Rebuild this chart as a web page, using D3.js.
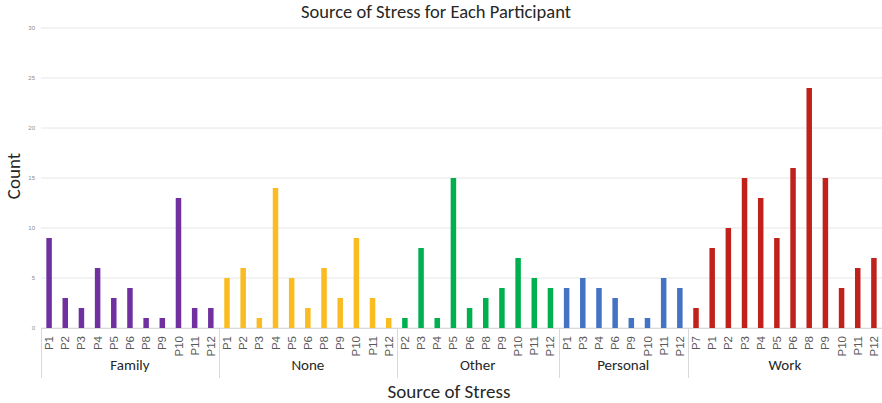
<!DOCTYPE html>
<html><head><meta charset="utf-8">
<script src="https://cdn.jsdelivr.net/npm/d3@7"></script>
<style>body{margin:0;background:#fff;} svg{display:block;font-family:Calibri,"Liberation Sans","Open Sans",sans-serif;}</style>
</head><body>
<svg id="c" width="882" height="403"></svg>
<script>
const groups = ["Family","None","Other","Personal","Work"];
const participants = [
  ["P1","P2","P3","P4","P5","P6","P8","P9","P10","P11","P12"],
  ["P1","P2","P3","P4","P5","P6","P8","P9","P10","P11","P12"],
  ["P2","P3","P4","P5","P6","P8","P9","P10","P11","P12"],
  ["P1","P3","P4","P6","P9","P10","P11","P12"],
  ["P7","P1","P2","P3","P4","P5","P6","P8","P9","P10","P11","P12"]
];
const familyValues = [9,3,2,6,3,4,1,1,13,2,2];
const noneValues = [5,6,1,14,5,2,6,3,9,3,1];
const otherValues = [1,8,1,15,2,3,4,7,5,4];
const personalValues = [4,5,4,3,1,1,5,4];
const workValues = [2,8,10,15,13,9,16,24,15,4,6,7];
const groupColors = ["#7030a0","#fbbc22","#00b04f","#4472c4","#c0221b"];
const yTicks = [0,5,10,15,20,25,30];

const seriesValues = [familyValues, noneValues, otherValues, personalValues, workValues];
const rows = [];
groups.forEach((g,gi)=>participants[gi].forEach((p,pi)=>rows.push({key:g+"|"+p, group:g, gi, p, v:seriesValues[gi][pi]})));

const svg = d3.select("#c");
const pl = 41, pr = 882, pt = 28, pb = 328;
const x = d3.scaleBand().domain(rows.map(d=>d.key)).range([pl,pr]).paddingInner(0.66).paddingOuter(0.33);
const y = d3.scaleLinear().domain([0,30]).range([pb,pt]);

svg.append("g").selectAll("line").data(yTicks).join("line")
  .attr("x1",pl).attr("x2",pr).attr("y1",d=>y(d)).attr("y2",d=>y(d))
  .attr("stroke","#e6e6e6").attr("stroke-width",1);

const ya = svg.append("g").attr("transform",`translate(${pl},0)`)
  .call(d3.axisLeft(y).tickValues(yTicks).tickSize(0).tickPadding(6));
ya.select(".domain").remove();
ya.selectAll("text").attr("font-size",6).attr("fill","#8c8c8c");

svg.append("g").selectAll("rect").data(rows).join("rect")
  .attr("x",d=>x(d.key)).attr("width",x.bandwidth())
  .attr("y",d=>y(d.v)).attr("height",d=>y(0)-y(d.v))
  .attr("fill",d=>groupColors[d.gi]);

svg.append("line").attr("x1",pl).attr("x2",pr).attr("y1",pb+0.5).attr("y2",pb+0.5).attr("stroke","#d9d9d9");

const xa = svg.append("g").attr("transform",`translate(0,${pb})`)
  .call(d3.axisBottom(x).tickSize(0).tickFormat(k=>k.split("|")[1]));
xa.select(".domain").remove();
xa.selectAll("text").attr("font-size",11.5).attr("fill","#595959")
  .attr("text-anchor","end").attr("dy","0.35em")
  .attr("transform","translate(0,8) rotate(-90)").attr("x",0).attr("y",0);

let idx = 0;
const bounds = [];
groups.forEach((g,gi)=>{ bounds.push([idx, idx+participants[gi].length]); idx += participants[gi].length; });
const gx = i => pl + (pr-pl)*i/rows.length;
svg.append("g").selectAll("line").data([0, ...bounds.slice(0,-1).map(b=>b[1])]).join("line")
  .attr("x1",d=>Math.round(gx(d))+0.5).attr("x2",d=>Math.round(gx(d))+0.5)
  .attr("y1",pb).attr("y2",378).attr("stroke","#d9d9d9");
svg.append("g").selectAll("text").data(bounds).join("text")
  .attr("x",(d)=> (gx(d[0])+gx(d[1]))/2).attr("y",370)
  .attr("text-anchor","middle").attr("font-size",15).attr("fill","#262626")
  .text((d,i)=>groups[i]);

svg.append("text").attr("x",436).attr("y",18).attr("text-anchor","middle")
  .attr("font-size",18.5).attr("fill","#262626").text("Source of Stress for Each Participant");
svg.append("text").attr("x",449).attr("y",398).attr("text-anchor","middle")
  .attr("font-size",19).attr("fill","#262626").text("Source of Stress");
svg.append("text").attr("transform","translate(20,176) rotate(-90)").attr("text-anchor","middle")
  .attr("font-size",19).attr("fill","#262626").text("Count");
</script>
</body></html>
